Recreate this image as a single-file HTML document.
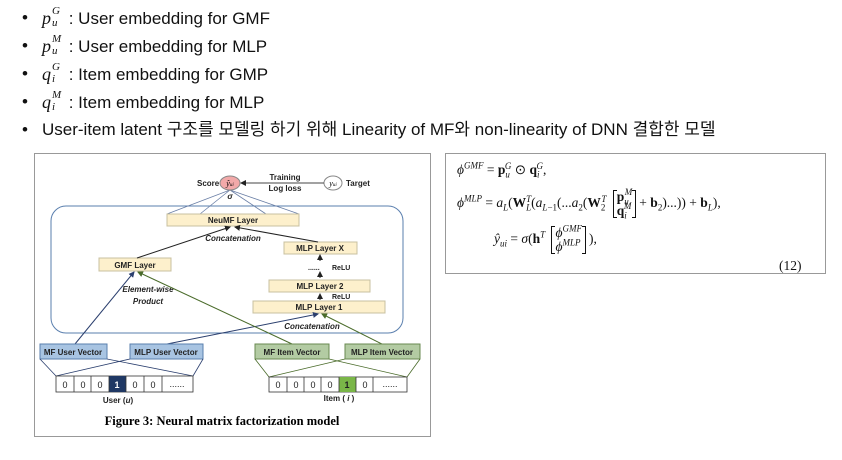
<!DOCTYPE html>
<html><head><meta charset="utf-8"><style>
body{margin:0;width:842px;height:460px;background:#fff;position:relative;overflow:hidden;font-family:"Liberation Sans","Noto Sans CJK KR",sans-serif;}
.b{position:absolute;left:22px;font-size:17px;line-height:20px;height:20px;color:#111;white-space:nowrap;}
.b .dot{position:absolute;left:0;top:0;}
.b .t{position:absolute;left:20px;top:0;}
.m{font-family:"Liberation Serif",serif;font-style:italic;font-size:18px;position:relative;display:inline-block;width:22px;}
.m .s1,.m .s2{position:absolute;font-size:11px;line-height:11px;left:10px;}
.m .s1{top:-2px}.m .s2{top:10px}
.f{position:absolute;font-family:"Liberation Serif",serif;font-size:13.5px;color:#111;white-space:nowrap;line-height:16px;}
.f i{font-style:italic}
.f b{font-weight:bold}
.f sup,.f sub{font-size:9px;line-height:0}
.mat{display:inline-block;vertical-align:middle;position:relative;padding:0 4px;line-height:14px;text-align:left;margin:0 3px;}
.mat:before,.mat:after{content:"";position:absolute;top:0;bottom:0;width:3px;border:1px solid #111;}
.mat:before{left:0;border-right:none}.mat:after{right:0;border-left:none}
.mat div{height:14px}
</style></head><body>
<div class="b" style="top:8px"><span class="dot">•</span><span class="t"><span class="m">p<span class="s1">G</span><span class="s2">u</span></span> : User embedding for GMF</span></div>
<div class="b" style="top:36px"><span class="dot">•</span><span class="t"><span class="m">p<span class="s1">M</span><span class="s2">u</span></span> : User embedding for MLP</span></div>
<div class="b" style="top:64px"><span class="dot">•</span><span class="t"><span class="m">q<span class="s1">G</span><span class="s2">i</span></span> : Item embedding for GMP</span></div>
<div class="b" style="top:92px"><span class="dot">•</span><span class="t"><span class="m">q<span class="s1">M</span><span class="s2">i</span></span> : Item embedding for MLP</span></div>
<div class="b" style="top:120px"><span class="dot">•</span><span class="t">User-item latent 구조를 모델링 하기 위해 Linearity of MF와 non-linearity of DNN 결합한 모델</span></div>

<svg width="842" height="460" style="position:absolute;left:0;top:0" font-family="Liberation Sans,sans-serif">
<defs><marker id="a" markerWidth="6" markerHeight="6" refX="5" refY="3" orient="auto"><path d="M0,0L6,3L0,6z" fill="#222"/></marker>
<marker id="g" markerWidth="6" markerHeight="6" refX="5" refY="3" orient="auto"><path d="M0,0L6,3L0,6z" fill="#4a6b2a"/></marker>
<marker id="u" markerWidth="6" markerHeight="6" refX="5" refY="3" orient="auto"><path d="M0,0L6,3L0,6z" fill="#2b3f6e"/></marker></defs>
<rect x="34.5" y="153.5" width="396" height="283" fill="#fff" stroke="#999"/>
<rect x="445.5" y="153.5" width="380" height="120" fill="#fff" stroke="#999"/>
<rect x="51" y="206" width="352" height="127" rx="15" fill="none" stroke="#5a7fae"/>
<g stroke="#6a7fa6" stroke-width="0.8"><line x1="230" y1="190" x2="167" y2="214"/><line x1="230" y1="190" x2="200" y2="214"/><line x1="230" y1="190" x2="266" y2="214"/><line x1="230" y1="190" x2="299" y2="214"/></g>
<ellipse cx="230" cy="183" rx="10" ry="7" fill="#f2a9a9" stroke="#888"/>
<text x="230" y="186" font-size="8" font-style="italic" text-anchor="middle" font-family="Liberation Serif">ŷ<tspan font-size="5">ui</tspan></text>
<ellipse cx="333" cy="183" rx="9" ry="7" fill="#fff" stroke="#888"/>
<text x="333" y="186" font-size="8" font-style="italic" text-anchor="middle" font-family="Liberation Serif">y<tspan font-size="5">ui</tspan></text>
<line x1="324" y1="183" x2="241" y2="183" stroke="#444" marker-end="url(#a)"/>
<g font-size="8" font-weight="bold" fill="#222">
<text x="197" y="186">Score</text><text x="346" y="186">Target</text>
<text x="285" y="180" text-anchor="middle">Training</text><text x="285" y="191" text-anchor="middle">Log loss</text>
<text x="230" y="199" text-anchor="middle" font-style="italic">σ</text>
</g>
<g fill="#fdf0cc" stroke="#c8c0a0"><rect x="167" y="214" width="132" height="12"/><rect x="99" y="258" width="72" height="13"/><rect x="284" y="242" width="73" height="12"/><rect x="269" y="280" width="101" height="12"/><rect x="253" y="301" width="132" height="12"/></g>
<g font-size="8" font-weight="bold" fill="#222" text-anchor="middle">
<text x="233" y="223">NeuMF Layer</text><text x="135" y="268">GMF Layer</text><text x="320" y="251">MLP Layer X</text><text x="320" y="289">MLP Layer 2</text><text x="319" y="310">MLP Layer 1</text>
</g>
<g font-size="8" font-weight="bold" font-style="italic" fill="#222" text-anchor="middle">
<text x="233" y="241">Concatenation</text><text x="312" y="329">Concatenation</text><text x="148" y="292">Element-wise</text><text x="148" y="304">Product</text>
</g>
<g font-size="7" font-weight="bold" fill="#222"><text x="332" y="270">ReLU</text><text x="332" y="299">ReLU</text><text x="308" y="270">......</text></g>
<g stroke="#222" stroke-width="1"><line x1="137" y1="258" x2="230" y2="227" marker-end="url(#a)"/><line x1="318" y1="242" x2="235" y2="227" marker-end="url(#a)"/>
<line x1="320" y1="261" x2="320" y2="255" marker-end="url(#a)"/><line x1="320" y1="278" x2="320" y2="272" marker-end="url(#a)"/><line x1="320" y1="300" x2="320" y2="294" marker-end="url(#a)"/></g>
<line x1="75" y1="344" x2="134" y2="272" stroke="#2b3f6e" marker-end="url(#u)"/>
<line x1="167" y1="344" x2="318" y2="314" stroke="#2b3f6e" marker-end="url(#u)"/>
<line x1="292" y1="344" x2="138" y2="272" stroke="#4a6b2a" marker-end="url(#g)"/>
<line x1="382" y1="344" x2="322" y2="314" stroke="#4a6b2a" marker-end="url(#g)"/>
<g fill="#a8c4e2" stroke="#5a7fae"><rect x="40" y="344" width="67" height="15"/><rect x="130" y="344" width="73" height="15"/></g>
<g fill="#b3cba3" stroke="#6a8a50"><rect x="255" y="344" width="74" height="15"/><rect x="345" y="344" width="75" height="15"/></g>
<g font-size="8" font-weight="bold" fill="#222" text-anchor="middle"><text x="73" y="355">MF User Vector</text><text x="166" y="355">MLP User Vector</text><text x="292" y="355">MF Item Vector</text><text x="382" y="355">MLP Item Vector</text></g>
<g stroke="#2b3f6e" stroke-width="0.8"><line x1="40" y1="359" x2="56" y2="376"/><line x1="107" y1="359" x2="193" y2="376"/><line x1="130" y1="359" x2="56" y2="376"/><line x1="203" y1="359" x2="193" y2="376"/></g>
<g stroke="#4a6b2a" stroke-width="0.8"><line x1="255" y1="359" x2="269" y2="377"/><line x1="329" y1="359" x2="407" y2="377"/><line x1="345" y1="359" x2="269" y2="377"/><line x1="420" y1="359" x2="407" y2="377"/></g>
<g stroke="#333" stroke-width="0.8" fill="#fff">
<rect x="56" y="376" width="137" height="16"/><rect x="269" y="377" width="138" height="15"/>
</g>
<rect x="109" y="376" width="17" height="16" fill="#1f3864"/>
<rect x="339" y="377" width="17" height="15" fill="#7ab648"/>
<g stroke="#333" stroke-width="0.8"><line x1="74" y1="376" x2="74" y2="392"/><line x1="91" y1="376" x2="91" y2="392"/><line x1="109" y1="376" x2="109" y2="392"/><line x1="126" y1="376" x2="126" y2="392"/><line x1="144" y1="376" x2="144" y2="392"/><line x1="162" y1="376" x2="162" y2="392"/>
<line x1="287" y1="377" x2="287" y2="392"/><line x1="304" y1="377" x2="304" y2="392"/><line x1="321" y1="377" x2="321" y2="392"/><line x1="339" y1="377" x2="339" y2="392"/><line x1="356" y1="377" x2="356" y2="392"/><line x1="373" y1="377" x2="373" y2="392"/></g>
<g font-size="9" text-anchor="middle" fill="#222"><text x="65" y="388">0</text><text x="83" y="388">0</text><text x="100" y="388">0</text><text x="117" y="388" fill="#fff" font-weight="bold">1</text><text x="135" y="388">0</text><text x="153" y="388">0</text><text x="177" y="387">......</text>
<text x="278" y="388">0</text><text x="296" y="388">0</text><text x="313" y="388">0</text><text x="330" y="388">0</text><text x="347" y="388" font-weight="bold">1</text><text x="365" y="388">0</text><text x="390" y="387">......</text></g>
<g font-size="8" font-weight="bold" fill="#222" text-anchor="middle"><text x="118" y="403">User (<tspan font-style="italic">u</tspan>)</text><text x="339" y="401">Item ( <tspan font-style="italic">i</tspan> )</text></g>
<text x="222" y="425" font-size="12.5" font-weight="bold" text-anchor="middle" font-family="Liberation Serif,serif">Figure 3:  Neural matrix factorization model</text>
</svg>

<div class="f" style="left:457px;top:162px"><i>ϕ</i><sup><i>GMF</i></sup> = <b>p</b><sub><i>u</i></sub><sup style="margin-left:-5px"><i>G</i></sup> ⊙ <b>q</b><sub><i>i</i></sub><sup style="margin-left:-3px"><i>G</i></sup>,</div>
<div class="f" style="left:457px;top:186px;height:34px;line-height:34px"><i>ϕ</i><sup><i>MLP</i></sup> = <i>a</i><sub><i>L</i></sub>(<b>W</b><sub><i>L</i></sub><sup style="margin-left:-5px"><i>T</i></sup>(<i>a</i><sub><i>L</i>−1</sub>(...<i>a</i><sub>2</sub>(<b>W</b><sub>2</sub><sup style="margin-left:-4px"><i>T</i></sup> <span class="mat"><div><b>p</b><sub><i>u</i></sub><sup style="margin-left:-4px"><i>M</i></sup></div><div><b>q</b><sub><i>i</i></sub><sup style="margin-left:-3px"><i>M</i></sup></div></span>+ <b>b</b><sub>2</sub>)...)) + <b>b</b><sub><i>L</i></sub>),</div>
<div class="f" style="left:494px;top:222px;height:34px;line-height:34px"><i>ŷ</i><sub><i>ui</i></sub> = <i>σ</i>(<b>h</b><sup><i>T</i></sup> <span class="mat"><div><i>ϕ</i><sup><i>GMF</i></sup></div><div><i>ϕ</i><sup><i>MLP</i></sup></div></span>),</div>
<div class="f" style="left:779px;top:258px">(12)</div>
</body></html>
